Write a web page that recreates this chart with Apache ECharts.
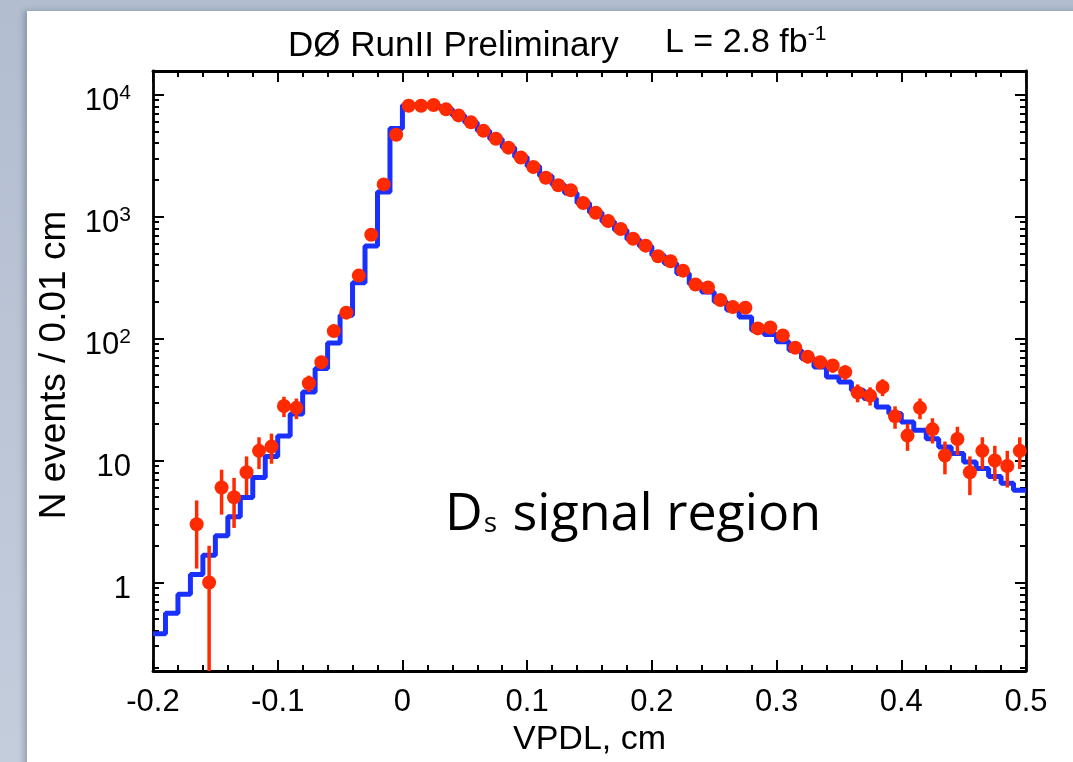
<!DOCTYPE html>
<html><head><meta charset="utf-8">
<script src="https://cdn.jsdelivr.net/npm/echarts@6/dist/echarts.min.js"></script>
<style>
html,body{margin:0;padding:0;width:1073px;height:762px;overflow:hidden;background:linear-gradient(180deg,#b2bdd0 0%,#c4cddc 100%);}
#panel{position:absolute;left:27px;top:11px;width:1070px;height:780px;background:#fff;box-shadow:-3px 0 6px rgba(60,70,90,0.35);}
#chart{position:absolute;left:0;top:0;width:1073px;height:762px;}
</style></head><body><div id="panel"></div><div id="chart"></div>
<script>
// Bin edges (VPDL, cm), 0.01 cm bins
const binEdges = [-0.20,-0.19,-0.18,-0.17,-0.16,-0.15,-0.14,-0.13,-0.12,-0.11,-0.10,-0.09,-0.08,-0.07,-0.06,-0.05,-0.04,-0.03,-0.02,-0.01,
  0.00,0.01,0.02,0.03,0.04,0.05,0.06,0.07,0.08,0.09,0.10,0.11,0.12,0.13,0.14,0.15,0.16,0.17,0.18,0.19,
  0.20,0.21,0.22,0.23,0.24,0.25,0.26,0.27,0.28,0.29,0.30,0.31,0.32,0.33,0.34,0.35,0.36,0.37,0.38,0.39,
  0.40,0.41,0.42,0.43,0.44,0.45,0.46,0.47,0.48,0.49,0.50];
// Blue histogram (fit / MC)
const mcCounts = [0.38,0.56,0.80,1.16,1.67,2.41,3.45,4.97,7.26,10.8,15.9,24,36.5,56.8,92,155,286,574,1590,5260,
  8170,8250,8100,7600,6750,5900,5050,4330,3680,3080,
  2580,2150,1820,1560,1290,1080,910,775,650,570,
  482,412,341,280,241,200,171,150,117,108,
  94,80,68.6,58.5,48.4,44,37.7,32.2,27.5,24.3,
  20.7,17.7,15.1,12.9,11.4,9.7,8.6,7.4,6.5,5.7];
// Red data points
const dataCounts = [null,null,null,3,1,6,5,8,12,13,28,27,43,64,115,163,328,710,1835,4680,
  8100,8100,8200,7560,6750,5920,5040,4340,3670,3050,
  2545,2080,1805,1643,1292,1075,920,790,658,577,
  473,430,360,277,262,207,181,179,121,123,
  106,84,71,64,60,53,36,34,40,23,
  16,27,18,11,15,8,12,10,9,12];
const dataErrors = [null,null,null,1.7,1,2.4,2.2,2.8,3.5,3.6,5.3,5.2,6.6,8,10.7,12.8,18,26.6,43,68,
  90,90,90.5,87,82,77,71,66,61,55,
  50,46,42,40.5,36,33,30,28,25.6,24,
  21.7,20.7,19,16.6,16.2,14.4,13.5,13.4,11,11.1,
  10.3,9.2,8.4,8,7.7,7.3,6,5.8,6.3,4.8,
  4,5.2,4.2,3.3,3.9,2.8,3.5,3.2,3,3.5];
const yTickLabels = {'0':'{n|1}','1':'{n|10}','2':'{n|10}{sup|2}','3':'{n|10}{sup|3}','4':'{n|10}{sup|4}'};
const xMin = -0.2, xMax = 0.5, yMin = 0.188, yMax = 15600;

const FONT = '"Liberation Sans", Arial, Helvetica, sans-serif';
const SLIDE_FONT = '"Open Sans", Lato, sans-serif';

const histLine = binEdges.slice(0, mcCounts.length).map((e, i) => [e, mcCounts[i]]);
histLine.push([binEdges[binEdges.length - 1], mcCounts[mcCounts.length - 1]]);
const centers = dataCounts.map((_, i) => (binEdges[i] + binEdges[i + 1]) / 2);
const points = [], bars = [];
dataCounts.forEach((v, i) => {
  if (v == null) return;
  points.push([centers[i], v]);
  const lo = Math.max(v - dataErrors[i], yMin);
  const hi = v + dataErrors[i];
  bars.push([centers[i], lo, hi]);
});

const axisLineStyle = { color: '#000', width: 2.8 };
function xAxisCfg(pos, showLabel) {
  return {
    type: 'value', position: pos, min: xMin, max: xMax, interval: 0.1,
    axisLine: { show: true, onZero: false, lineStyle: axisLineStyle },
    axisTick: { show: true, inside: true, length: 11, lineStyle: { color: '#000', width: 2 } },
    minorTick: { show: true, splitNumber: 5, length: 6, lineStyle: { color: '#000', width: 2 } },
    splitLine: { show: false },
    axisLabel: { show: showLabel, fontSize: 31, color: '#000', fontFamily: FONT, margin: 16 },
    name: showLabel ? 'VPDL, cm' : '', nameLocation: 'middle', nameGap: 45,
    nameTextStyle: { fontSize: 34, color: '#000', fontFamily: FONT }
  };
}
function yAxisCfg(pos, showLabel) {
  return {
    type: 'log', logBase: 10, position: pos, min: yMin, max: yMax,
    axisLine: { show: true, onZero: false, lineStyle: axisLineStyle },
    axisTick: { show: true, inside: true, length: 11, lineStyle: { color: '#000', width: 2 } },
    minorTick: { show: true, splitNumber: 9, length: 6, lineStyle: { color: '#000', width: 2 } },
    splitLine: { show: false },
    axisLabel: {
      show: showLabel, color: '#000', fontFamily: FONT, fontSize: 31, margin: 22,
      formatter: function (v) {
        const l = Math.log10(v); const r = Math.round(l);
        if (Math.abs(l - r) > 1e-6) return '';
        return yTickLabels[String(r)] || '';
      },
      rich: {
        n: { fontSize: 31, fontFamily: FONT, color: '#000', height: 30, padding: [14, 0, 0, 0], verticalAlign: 'bottom' },
        sup: { fontSize: 21, fontFamily: FONT, color: '#000', height: 20, padding: [0, 0, 13, 0], verticalAlign: 'bottom' }
      }
    }
  };
}

const chart = echarts.init(document.getElementById('chart'), null, { renderer: 'canvas' });
chart.setOption({
  animation: false,
  backgroundColor: 'transparent',
  grid: { left: 153, right: 47, top: 71, bottom: 91, containLabel: false, outerBoundsMode: 'none' },
  xAxis: [xAxisCfg('bottom', true), xAxisCfg('top', false)],
  yAxis: [yAxisCfg('left', true), yAxisCfg('right', false)],
  graphic: [
    { type: 'text', x: 55, y: 365, rotation: Math.PI / 2,
      style: { text: 'N events / 0.01 cm', font: '37px ' + FONT, fill: '#000', textAlign: 'center', textVerticalAlign: 'middle' } },
    { type: 'text', left: 288, top: 29, style: { text: 'DØ RunII Preliminary', font: '35px ' + FONT, fill: '#000' } },
    { type: 'text', left: 665, top: 24, style: { text: '{m|L = 2.8 fb}{s|-1}', fill: '#000',
      rich: { m: { fontSize: 34, fontFamily: FONT, verticalAlign: 'bottom' }, s: { fontSize: 21, fontFamily: FONT, verticalAlign: 'bottom', padding: [0, 0, 15, 0] } } } },
    { type: 'text', left: 445, top: 489, style: { text: '{a|D}{b|s}{a| signal region}', fill: '#000',
      rich: { a: { fontSize: 52, fontFamily: SLIDE_FONT, verticalAlign: 'bottom' }, b: { fontSize: 28, fontFamily: SLIDE_FONT, verticalAlign: 'bottom', padding: [0, 2, 3, 1] } } } }
  ],
  series: [
    { type: 'line', name: 'fit', data: histLine, step: 'end', showSymbol: false, symbol: 'none',
      lineStyle: { color: '#1a30ff', width: 5 }, z: 2, clip: true },
    { type: 'custom', name: 'errors', data: bars, z: 3, clip: true,
      encode: { x: 0, y: [1, 2] },
      renderItem: function (params, api) {
        const x = api.value(0);
        const p1 = api.coord([x, api.value(2)]);
        const p2 = api.coord([x, api.value(1)]);
        return { type: 'line', shape: { x1: p1[0], y1: p1[1], x2: p2[0], y2: p2[1] },
          style: { stroke: '#ff2a00', lineWidth: 3.5 } };
      } },
    { type: 'scatter', name: 'data', data: points, symbol: 'circle', symbolSize: 14,
      itemStyle: { color: '#ff2a00', opacity: 1 }, z: 4 }
  ]
});
</script></body></html>
